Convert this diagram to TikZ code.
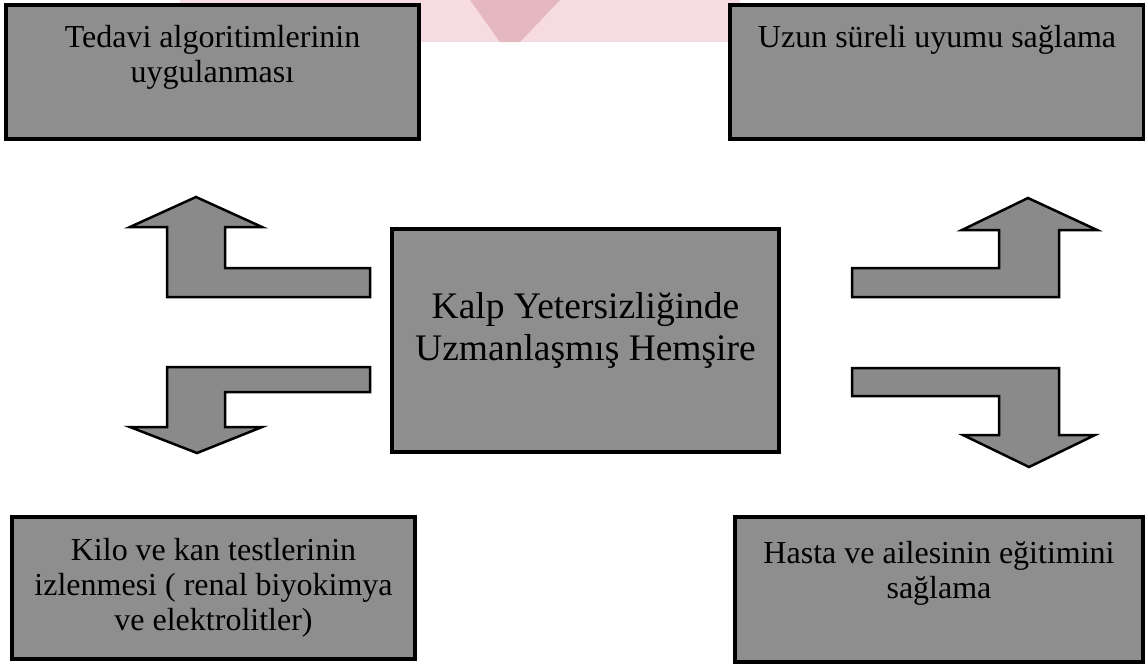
\documentclass[tikz,border=0pt]{standalone}
\usepackage{fontspec}
\setmainfont{Liberation Serif}
\definecolor{boxgray}{HTML}{8E8E8E}
\definecolor{arrgray}{HTML}{8A8A8A}
\definecolor{wmpink}{HTML}{F6DCE0}
\definecolor{wmred}{HTML}{D9A0A8}
\begin{document}
\begin{tikzpicture}[x=1pt,y=-1pt,
  box/.style={draw=black, line width=4pt, fill=boxgray, inner sep=0pt, anchor=north west},
  lbl/.style={align=center, inner sep=0pt, anchor=north, font=\fontsize{32}{35}\selectfont},
  biglbl/.style={align=center, inner sep=0pt, anchor=north, font=\fontsize{37.5}{42}\selectfont},
  blockarrow/.style={draw=black, line width=2.5pt, fill=arrgray, line join=miter}]
\useasboundingbox (0,0) rectangle (1145,665);
\fill[white] (0,0) rectangle (1145,665);
% faint watermark at the top
\fill[wmpink] (180,0) rectangle (740,42);
\fill[wmred, opacity=0.6] (470,0) -- (560,0) -- (520,42) -- (500,42) -- cycle;
% boxes
\node[box, minimum width=413pt, minimum height=134pt] (tl) at (4,3) {};
\node[box, minimum width=414pt, minimum height=134pt] (tr) at (728,3) {};
\node[box, minimum width=387pt, minimum height=223pt] (c) at (390,227) {};
\node[box, minimum width=403pt, minimum height=142pt] (bl) at (10,515) {};
\node[box, minimum width=408pt, minimum height=145pt] (br) at (733,515) {};
% texts
\node[lbl, yshift=-22pt] (tlt) at (tl.north) {Tedavi algoritimlerinin\\uygulanması};
\node[lbl, yshift=-22pt] (trt) at (tr.north) {Uzun süreli uyumu sağlama};
\node[biglbl, yshift=-65pt] (ct) at (c.north) {Kalp Yetersizliğinde\\Uzmanlaşmış Hemşire};
\node[lbl, yshift=-23pt] (blt) at (bl.north) {Kilo ve kan testlerinin\\izlenmesi ( renal biyokimya\\ve elektrolitler)};
\node[lbl, yshift=-26pt] (brt) at (br.north) {Hasta ve ailesinin eğitimini\\sağlama};
% block arrows
\draw[blockarrow] (196,197) -- (262,227) -- (225,227) -- (225,268) -- (370,268) -- (370,297)
  -- (167,297) -- (167,227) -- (130,227) -- cycle;
\draw[blockarrow] (167,367) -- (370,367) -- (370,392) -- (225,392) -- (225,427) -- (262,427)
  -- (197,453) -- (130,427) -- (167,427) -- cycle;
\draw[blockarrow] (1028,198) -- (1097,230) -- (1059,230) -- (1059,297) -- (852,297) -- (852,268)
  -- (999,268) -- (999,230) -- (962,230) -- cycle;
\draw[blockarrow] (852,368) -- (1059,368) -- (1059,435) -- (1095,435) -- (1029,467) -- (963,435)
  -- (999,435) -- (999,396) -- (852,396) -- cycle;
\end{tikzpicture}
\end{document}
